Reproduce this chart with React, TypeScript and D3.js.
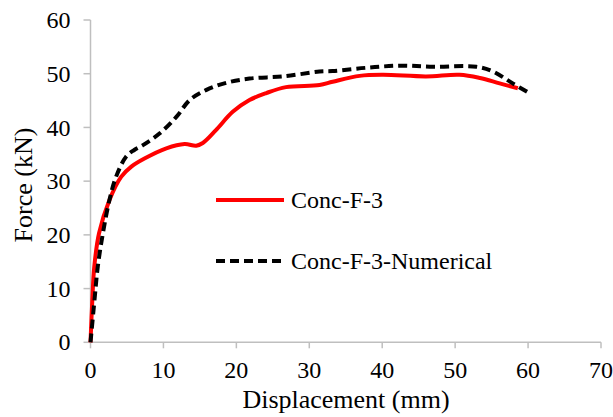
import * as d3 from "d3";

// Conc-F-3 (test)
const testDisp = [0, 0.25, 0.52, 1.17, 2.6, 4.2, 5.6, 7.4, 10.4, 12.9, 14.5, 15.4, 17.2, 19.5, 21.8, 24.1, 26.8, 31.4, 33.2, 36.9, 40.1, 46.0, 50.6, 53.4, 56.1, 58.6];
const testForce = [0, 7.9, 14.1, 20.3, 26.5, 30.8, 32.7, 34.2, 36.1, 36.9, 36.6, 37.1, 39.5, 42.9, 45.1, 46.4, 47.5, 47.9, 48.5, 49.6, 49.8, 49.5, 49.8, 49.2, 48.2, 47.3];

// Conc-F-3-Numerical
const numDisp = [0, 0.55, 1.0, 1.7, 2.6, 3.5, 4.9, 6.0, 7.2, 9.5, 11.8, 13.6, 15.9, 18.6, 21.8, 26.4, 31.4, 33.2, 37.8, 42.4, 47.0, 52.9, 55.2, 57.9, 60.4];
const numForce = [0, 7.9, 14.1, 20.3, 26.5, 30.8, 34.6, 35.8, 36.7, 38.9, 42.0, 45.1, 47.0, 48.3, 49.1, 49.5, 50.4, 50.5, 51.1, 51.5, 51.3, 51.3, 50.4, 48.2, 46.2];

const xTicks = [0, 10, 20, 30, 40, 50, 60, 70];
const yTicks = [0, 10, 20, 30, 40, 50, 60];

const seriesNames = ["Conc-F-3", "Conc-F-3-Numerical"];

const FONT = "'Liberation Serif'";
const AXIS = "#bfbfbf";

export default function App() {
  const width = 613;
  const height = 417;

  const x = d3.scaleLinear().domain([0, 70]).range([90.5, 601]);
  const y = d3.scaleLinear().domain([0, 60]).range([342.3, 20]);

  const smooth = d3.line().curve(d3.curveCatmullRom.alpha(0.5));
  const testPath = smooth(testDisp.map((d, i) => [x(d), y(testForce[i])] as [number, number])) ?? "";
  const numPath = smooth(numDisp.map((d, i) => [x(d), y(numForce[i])] as [number, number])) ?? "";

  const legendRows = [
    { name: seriesNames[0], color: "#ff0000", dash: undefined, yPos: 200 },
    { name: seriesNames[1], color: "#000000", dash: "9,5", yPos: 261 },
  ];

  return (
    <svg
      width={width}
      height={height}
      style={{ position: "absolute", left: 0, top: 0, display: "block", background: "#fff" }}
    >
      {/* axes */}
      <g stroke={AXIS} strokeWidth={1.5}>
        <line x1={x(0)} x2={x(0)} y1={y(60)} y2={y(0)} />
        <line x1={x(0)} x2={x(70)} y1={y(0)} y2={y(0)} />
        {yTicks.map((t) => (
          <line key={"yt" + t} x1={x(0) - 7} x2={x(0)} y1={y(t)} y2={y(t)} />
        ))}
        {xTicks.map((t) => (
          <line key={"xt" + t} x1={x(t)} x2={x(t)} y1={y(0)} y2={y(0) + 6} />
        ))}
      </g>
      <g style={{ fontFamily: FONT, fontSize: 24 }} fill="#000">
        {yTicks.map((t) => (
          <text key={"yl" + t} x={x(0) - 20} y={y(t)} dy="0.34em" textAnchor="end">
            {t}
          </text>
        ))}
        {xTicks.map((t) => (
          <text key={"xl" + t} x={x(t)} y={y(0) + 36} textAnchor="middle">
            {t}
          </text>
        ))}
      </g>

      {/* series */}
      <path d={testPath} fill="none" stroke="#ff0000" strokeWidth={4} />
      <path d={numPath} fill="none" stroke="#000000" strokeWidth={4} strokeDasharray="9,5" />

      {/* legend */}
      {legendRows.map((r) => (
        <g key={r.name}>
          <line
            x1={216}
            x2={284}
            y1={r.yPos}
            y2={r.yPos}
            stroke={r.color}
            strokeWidth={4}
            strokeDasharray={r.dash}
          />
          <text x={291} y={r.yPos + 8} style={{ fontFamily: FONT, fontSize: 24 }}>
            {r.name}
          </text>
        </g>
      ))}

      {/* axis titles */}
      <text x={346} y={408} textAnchor="middle" style={{ fontFamily: FONT, fontSize: 26 }}>
        Displacement (mm)
      </text>
      <text
        transform="translate(32,185) rotate(-90)"
        textAnchor="middle"
        style={{ fontFamily: FONT, fontSize: 26 }}
      >
        Force (kN)
      </text>
    </svg>
  );
}
